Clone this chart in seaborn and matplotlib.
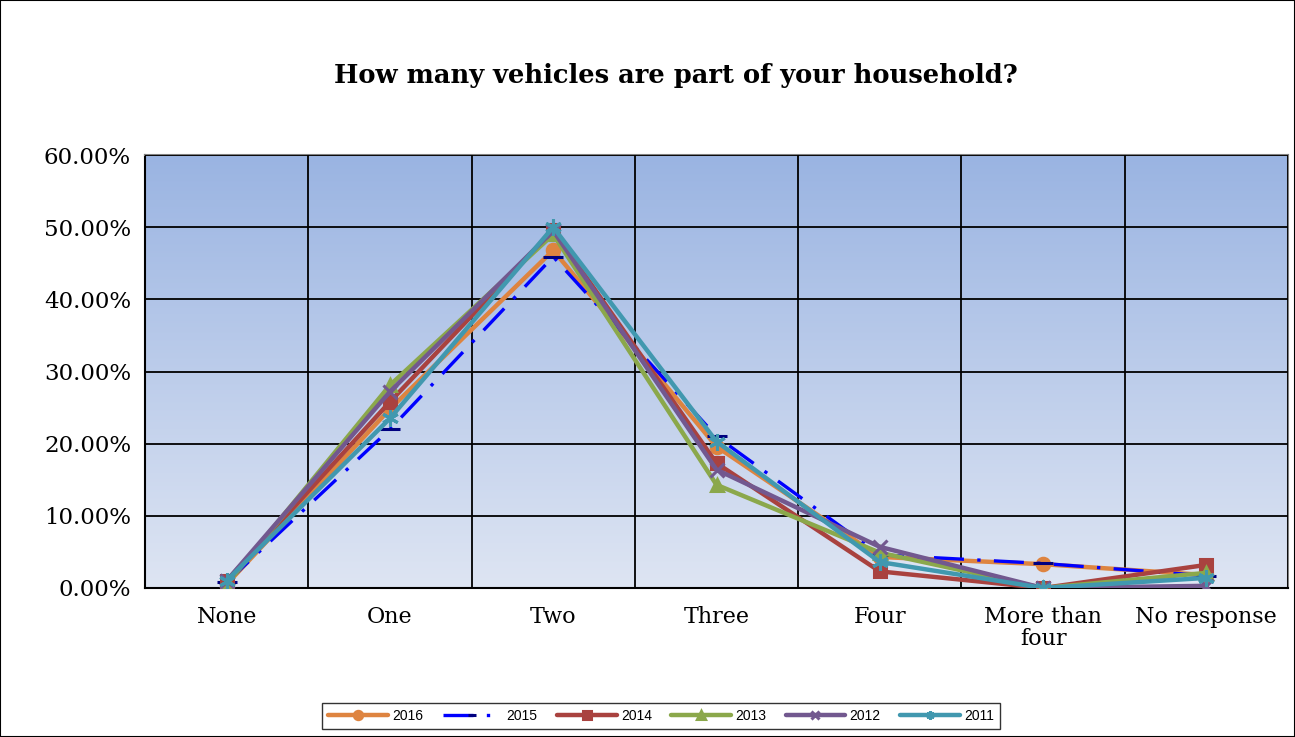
import matplotlib
matplotlib.use("Agg")
import matplotlib.pyplot as plt
import numpy as np
import pandas as pd
import seaborn as sns

categories = ["None", "One", "Two", "Three", "Four", "More than\nfour", "No response"]
years = ["2016", "2015", "2014", "2013", "2012", "2011"]

y2016 = [0.5, 24.8, 46.8, 19.6, 4.3, 3.3, 1.8]
y2015 = [0.8, 22.0, 45.9, 21.0, 4.6, 3.4, 1.7]
y2014 = [1.0, 25.8, 49.6, 17.3, 2.3, 0.0, 3.2]
y2013 = [0.5, 28.1, 49.0, 14.3, 4.9, 0.0, 2.1]
y2012 = [1.0, 27.2, 49.5, 16.4, 5.7, 0.0, 0.3]
y2011 = [1.0, 23.5, 50.0, 20.3, 3.6, 0.0, 1.4]

series = [y2016, y2015, y2014, y2013, y2012, y2011]

styles = {
    "2016": dict(color="#DE8440", marker="o", ls="-", mfc="#DE8440", mec="#DE8440", ms=9, lw=3.2),
    "2015": dict(color="#0000FF", marker="_", ls=(0, (9, 4, 1, 4)), mfc="#000080", mec="#000080", ms=14, lw=2.4),
    "2014": dict(color="#A9423F", marker="s", ls="-", mfc="#A9423F", mec="#A9423F", ms=9, lw=3.2),
    "2013": dict(color="#8BA84B", marker="^", ls="-", mfc="#8BA84B", mec="#8BA84B", ms=9, lw=3.2),
    "2012": dict(color="#72588F", marker="x", ls="-", mfc="#72588F", mec="#72588F", ms=10, lw=3.2),
    "2011": dict(color="#4198AF", marker=(6, 2, 0), ls="-", mfc="#4198AF", mec="#4198AF", ms=12, lw=3.2),
}


def main():
    sns.set_style("white")
    plt.rcParams["font.family"] = ["DejaVu Serif"]
    plt.rcParams.update({"text.color": "black", "xtick.color": "black",
                         "ytick.color": "black", "axes.labelcolor": "black"})

    rows = []
    for yr, vals in zip(years, series):
        for c, v in zip(categories, vals):
            rows.append({"year": yr, "category": c, "value": v})
    df = pd.DataFrame(rows)

    fig = plt.figure(figsize=(12.95, 7.37), dpi=100)
    ax = fig.add_axes([145 / 1295, 1 - 588 / 737, 1143 / 1295, 433 / 737])

    # gradient background of plot area
    grad = np.linspace(0, 1, 256).reshape(-1, 1)
    cmap = matplotlib.colors.LinearSegmentedColormap.from_list("bg", ["#DEE5F3", "#9AB4E2"])
    ax.imshow(grad, aspect="auto", cmap=cmap, origin="lower",
              extent=[0, 1, 0, 1], transform=ax.transAxes, zorder=0)

    for yr in years:
        st = styles[yr]
        sub = df[df["year"] == yr]
        sns.lineplot(data=sub, x="category", y="value", ax=ax, color=st["color"],
                     linewidth=st["lw"], marker=st["marker"], markersize=st["ms"],
                     markerfacecolor=st["mfc"], markeredgecolor=st["mec"],
                     markeredgewidth=2.2, label=yr, sort=False, zorder=3)
        ax.lines[-1].set_linestyle(st["ls"])

    ax.set_xlim(-0.5, len(categories) - 0.5)
    ax.set_ylim(0, 60)
    ax.set_yticks(np.arange(0, 61, 10))
    ax.set_yticklabels([f"{v:.2f}%" for v in np.arange(0, 61, 10)])
    ax.set_xticks(range(len(categories)))
    ax.set_xticklabels(categories, linespacing=1.0)
    ax.set_xticks(np.arange(-0.5, len(categories), 1), minor=True)
    ax.tick_params(axis="x", which="major", length=0, pad=13, labelsize=16)
    ax.tick_params(axis="x", which="minor", length=8, width=1.3, direction="out", color="black")
    ax.tick_params(axis="y", length=8, width=1.3, direction="out", color="black", labelsize=16.5, pad=2)
    ax.grid(axis="y", which="major", color="black", linewidth=1.3, zorder=1)
    ax.grid(axis="x", which="minor", color="black", linewidth=1.3, zorder=1)
    ax.set_axisbelow(False)
    ax.set_xlabel("")
    ax.set_ylabel("")
    for s in ["top", "right"]:
        ax.spines[s].set_color("#808080")
        ax.spines[s].set_linewidth(1.5)
    for s in ["left", "bottom"]:
        ax.spines[s].set_color("black")
        ax.spines[s].set_linewidth(1.5)

    handles, labels = ax.get_legend_handles_labels()
    ax.get_legend().remove()
    leg = fig.legend(handles, labels, loc="center", bbox_to_anchor=(661 / 1295, 1 - 716 / 737),
                     ncol=6, frameon=True, fancybox=False, edgecolor="black",
                     prop={"family": "Liberation Sans", "size": 10}, handlelength=4.3,
                     columnspacing=1.4, handletextpad=0.3, borderpad=0.45)
    leg.get_frame().set_linewidth(1.0)
    for h in leg.legend_handles:
        h.set_markersize(6)

    fig.text(676 / 1295, 1 - 76 / 737, "How many vehicles are part of your household?",
             ha="center", va="center", fontsize=18.5, fontweight="bold")

    fig.patches.append(plt.Rectangle((0, 0), 1, 1, transform=fig.transFigure, fill=False,
                                     edgecolor="black", linewidth=1.5))

    fig.savefig("out.png", dpi=100)


if __name__ == "__main__":
    main()
